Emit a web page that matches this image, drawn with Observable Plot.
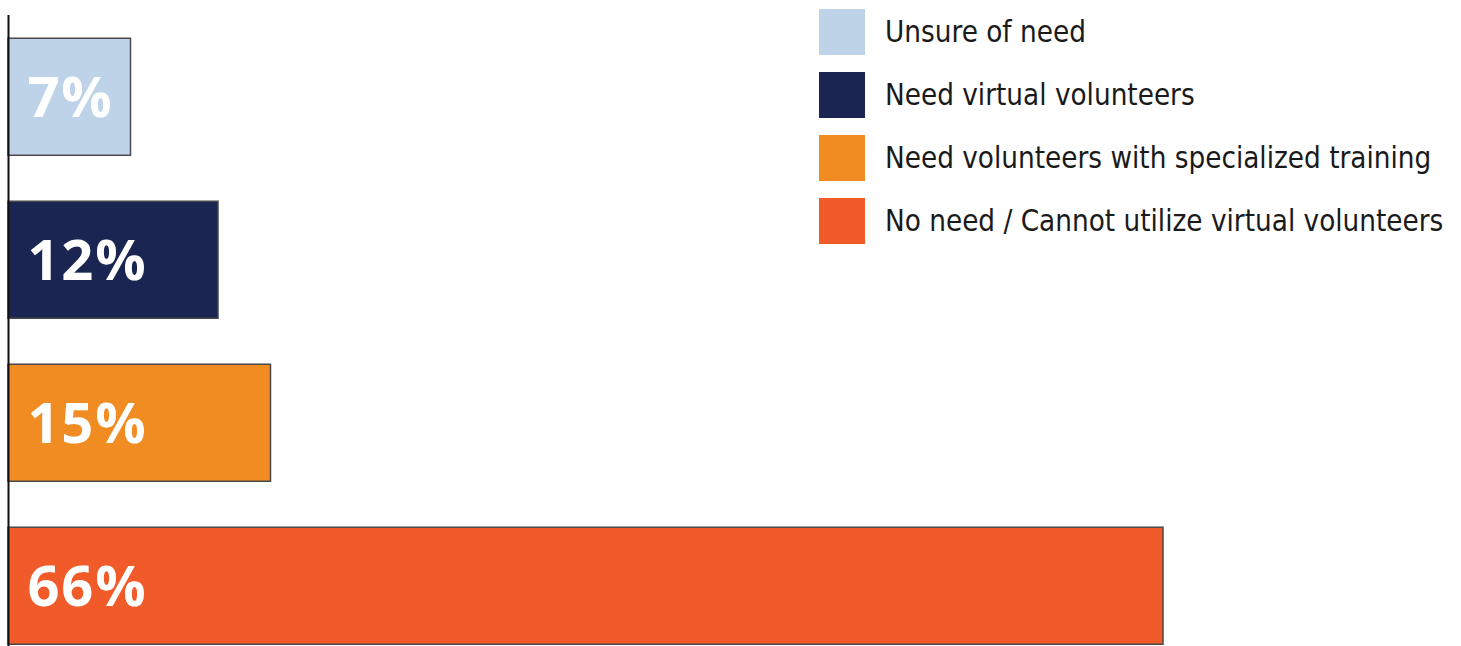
<!DOCTYPE html>
<html>
<head>
<meta charset="utf-8">
<script src="https://cdn.jsdelivr.net/npm/d3@7"></script>
<script src="https://cdn.jsdelivr.net/npm/@observablehq/plot@0.6"></script>
<style>
  html, body { margin: 0; padding: 0; background: #fff; }
  #wrap { position: relative; width: 1461px; height: 646px; overflow: hidden; }
  #chart { position: absolute; left: 0; top: 0; }
  #chart svg g[aria-label="text"] text { letter-spacing: 1.8px; }
  #legend { position: absolute; left: 819px; top: 9px; font-family: "Liberation Sans Narrow", "DejaVu Sans Condensed", "Roboto", sans-serif; }
  .item { display: flex; align-items: center; height: 46px; margin-bottom: 17px; }
  .sw { width: 46px; height: 46px; flex: none; }
  .lab { margin-left: 20px; font-size: 29.3px; color: #1a1a1a; white-space: nowrap; }
</style>
</head>
<body>
<div id="wrap">
  <div id="chart"></div>
  <div id="legend"></div>
</div>
<script>
const categories = [
  "Unsure of need",
  "Need virtual volunteers",
  "Need volunteers with specialized training",
  "No need / Cannot utilize virtual volunteers"
];
const values = [7, 12, 15, 66];
const labels = ["7%", "12%", "15%", "66%"];
const colors = ["#bed3e8", "#1a2651", "#f08c22", "#f15a29"];

const data = categories.map((c, i) => ({category: c, value: values[i], label: labels[i]}));

const chart = Plot.plot({
  width: 1461,
  height: 646,
  marginLeft: 8,
  marginRight: 0,
  marginTop: 15,
  marginBottom: 0,
  x: {domain: [0, (1461 - 8) / 17.5], axis: null},
  y: {domain: categories, axis: null, paddingInner: 0.282, paddingOuter: 0.0767, align: 0.93, round: false},
  color: {domain: categories, range: colors},
  marks: [
    Plot.barX(data, {x: "value", y: "category", fill: "category", stroke: "#4a4a4a", strokeWidth: 1.5}),
    Plot.text(data, {x: 0, y: "category", text: "label", fill: "white", fontSize: 56, fontWeight: "bold", fontFamily: "Open Sans", textAnchor: "start", dx: 19, dy: 2}),
    Plot.ruleX([0], {stroke: "#111", strokeWidth: 2})
  ]
});
document.getElementById("chart").appendChild(chart);

const legend = document.getElementById("legend");
categories.forEach((c, i) => {
  const item = document.createElement("div");
  item.className = "item";
  const sw = document.createElement("div");
  sw.className = "sw";
  sw.style.background = colors[i];
  const lab = document.createElement("div");
  lab.className = "lab";
  lab.textContent = c;
  item.appendChild(sw);
  item.appendChild(lab);
  legend.appendChild(item);
});
</script>
</body>
</html>
